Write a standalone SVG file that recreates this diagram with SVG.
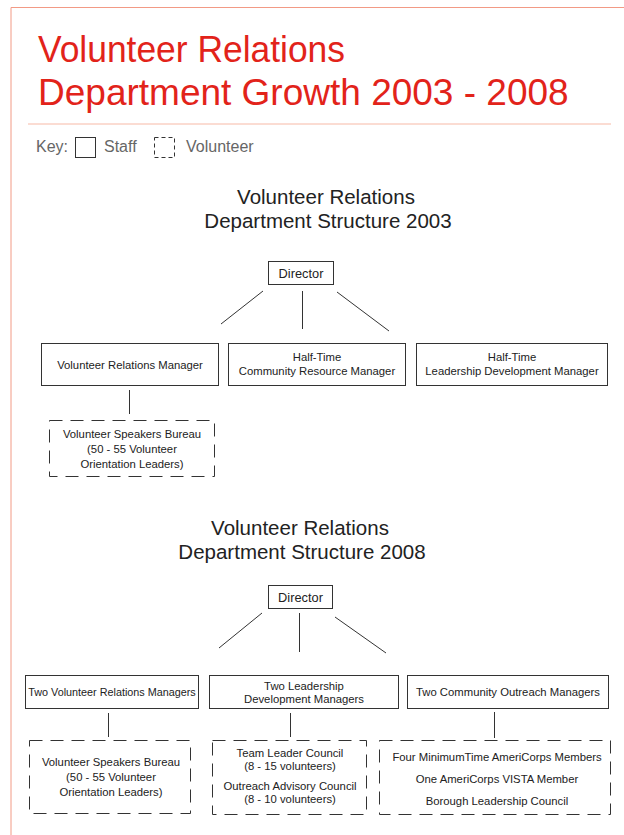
<svg xmlns="http://www.w3.org/2000/svg" width="624" height="835" viewBox="0 0 624 835">
<style>
text{font-family:"Liberation Sans",Arial,Helvetica,sans-serif;}
.title{fill:#e2231a;font-size:37px;}
.head{fill:#222;font-size:20.5px;text-anchor:middle;}
.key{fill:#666;font-size:16px;}
.lbl{fill:#222;font-size:11.3px;text-anchor:middle;}
.dir{fill:#222;font-size:12.8px;text-anchor:middle;}
.staff{fill:#fff;stroke:#333;stroke-width:1;}
.vol{fill:none;stroke:#333;stroke-width:1;stroke-dasharray:13 8;}
.conn line{stroke:#333;stroke-width:1;}
</style>
<rect width="624" height="835" fill="#fff"/>
<path d="M11 835 V7.5 H624" fill="none" stroke="#f29a85" stroke-width="1"/>
<line x1="28" y1="124" x2="611" y2="124" stroke="#f7b9a6" stroke-width="1"/>
<text class="title" x="38" y="62" textLength="307" lengthAdjust="spacingAndGlyphs">Volunteer Relations</text>
<text class="title" x="38" y="105">Department Growth 2003 - 2008</text>
<g id="key">
<text class="key" x="36" y="152">Key:</text>
<rect x="75.5" y="137.5" width="20" height="20" fill="none" stroke="#333"/>
<text class="key" x="104" y="152">Staff</text>
<rect x="154.5" y="137.5" width="20" height="20" fill="none" stroke="#333" stroke-dasharray="4 3"/>
<text class="key" x="186" y="152">Volunteer</text>
</g>
<text class="head" x="326" y="204">Volunteer Relations</text>
<text class="head" x="328" y="228">Department Structure 2003</text>
<text class="head" x="300" y="535">Volunteer Relations</text>
<text class="head" x="302" y="559">Department Structure 2008</text>
<g id="connectors" class="conn">
<line x1="263" y1="291" x2="221" y2="324"/>
<line x1="302.5" y1="291" x2="302.5" y2="329"/>
<line x1="337" y1="292" x2="389" y2="331"/>
<line x1="129.5" y1="390" x2="129.5" y2="414"/>
<line x1="262" y1="613" x2="219" y2="648"/>
<line x1="299.5" y1="613" x2="299.5" y2="652"/>
<line x1="335" y1="617" x2="386" y2="653"/>
<line x1="108.5" y1="713" x2="108.5" y2="737"/>
<line x1="290.5" y1="713" x2="290.5" y2="737"/>
<line x1="494.5" y1="712" x2="494.5" y2="738"/>
</g>
<g id="director2003">
<rect class="staff" x="268.5" y="261.5" width="65" height="23"/>
<text class="dir" x="301" y="277.5">Director</text>
</g>
<g id="vrm2003">
<rect class="staff" x="41.5" y="343.5" width="177" height="42"/>
<text class="lbl" x="130" y="368.5">Volunteer Relations Manager</text>
</g>
<g id="crm2003">
<rect class="staff" x="228.5" y="343.5" width="177" height="42"/>
<text class="lbl" x="317" y="361">Half-Time</text>
<text class="lbl" x="317" y="375">Community Resource Manager</text>
</g>
<g id="ldm2003">
<rect class="staff" x="416.5" y="343.5" width="191" height="42"/>
<text class="lbl" x="512" y="361">Half-Time</text>
<text class="lbl" x="512" y="375">Leadership Development Manager</text>
</g>
<g id="vsb2003">
<rect class="vol" x="49.5" y="420.5" width="165" height="56"/>
<text class="lbl" x="132" y="438">Volunteer Speakers Bureau</text>
<text class="lbl" x="132" y="453">(50 - 55 Volunteer</text>
<text class="lbl" x="132" y="468">Orientation Leaders)</text>
</g>
<g id="director2008">
<rect class="staff" x="268.5" y="585.5" width="64" height="23"/>
<text class="dir" x="300.5" y="601.5">Director</text>
</g>
<g id="tvrm2008">
<rect class="staff" x="25.5" y="675.5" width="173" height="33"/>
<text class="lbl" x="112" y="696" style="font-size:10.8px">Two Volunteer Relations Managers</text>
</g>
<g id="tldm2008">
<rect class="staff" x="209.5" y="675.5" width="189" height="33"/>
<text class="lbl" x="304" y="689.5">Two Leadership</text>
<text class="lbl" x="304" y="702.5">Development Managers</text>
</g>
<g id="tcom2008">
<rect class="staff" x="407.5" y="675.5" width="201" height="33"/>
<text class="lbl" x="508" y="696">Two Community Outreach Managers</text>
</g>
<g id="vsb2008">
<rect class="vol" x="29.5" y="740.5" width="161" height="73"/>
<text class="lbl" x="111" y="766">Volunteer Speakers Bureau</text>
<text class="lbl" x="111" y="781">(50 - 55 Volunteer</text>
<text class="lbl" x="111" y="796">Orientation Leaders)</text>
</g>
<g id="councils2008">
<rect class="vol" x="212.5" y="740.5" width="154" height="74"/>
<text class="lbl" x="290" y="757">Team Leader Council</text>
<text class="lbl" x="290" y="770">(8 - 15 volunteers)</text>
<text class="lbl" x="290" y="790">Outreach Advisory Council</text>
<text class="lbl" x="290" y="803">(8 - 10 volunteers)</text>
</g>
<g id="americorps2008">
<rect class="vol" x="379.5" y="740.5" width="231" height="74"/>
<text class="lbl" x="497" y="761">Four MinimumTime AmeriCorps Members</text>
<text class="lbl" x="497" y="783">One AmeriCorps VISTA Member</text>
<text class="lbl" x="497" y="805">Borough Leadership Council</text>
</g>
</svg>
